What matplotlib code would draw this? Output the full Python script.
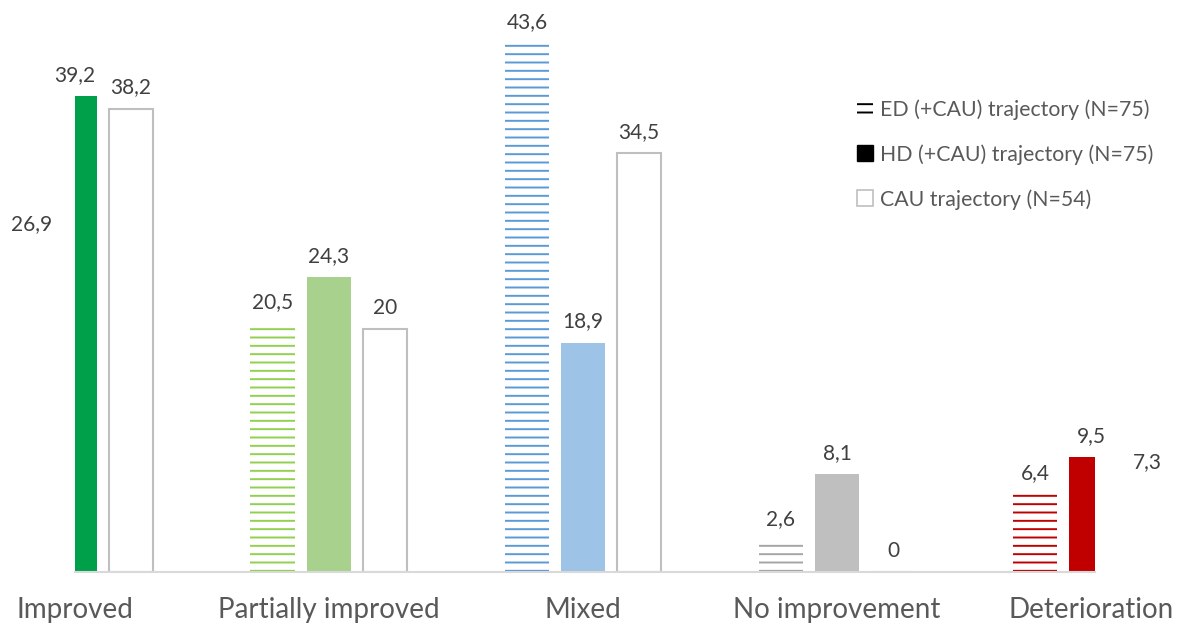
import numpy as np
import matplotlib
matplotlib.use('Agg')
import matplotlib.pyplot as plt
from matplotlib.patches import Patch

plt.rcParams['font.family'] = ['Lato', 'DejaVu Sans']
plt.rcParams['hatch.linewidth'] = 1.4

categories = ['Improved', 'Partially improved', 'Mixed', 'No improvement', 'Deterioration']
ed = [26.9, 20.5, 43.6, 2.6, 6.4]
hd = [39.2, 24.3, 18.9, 8.1, 9.5]
cau = [38.2, 20.0, 34.5, 0.0, 7.3]

ed_colors = ['#00a04a', '#92d050', '#5b9bd5', '#a5a5a5', '#c00000']
hd_colors = ['#00a04a', '#a9d18e', '#9dc3e6', '#bfbfbf', '#c00000']

series_names = ['ED (+CAU) trajectory (N=75)', 'HD (+CAU) trajectory (N=75)', 'CAU trajectory (N=54)']

fig = plt.figure(figsize=(11.79, 6.29), dpi=100)
ax = fig.add_axes([0.0636, 0.0906, 0.8652, 0.868])

x = np.arange(len(categories))
w = 0.177
step = 0.2205

ax.bar(x - step, ed, w, color='none', edgecolor=ed_colors, hatch='--', linewidth=0)
ax.bar(x, hd, w, color=hd_colors, linewidth=0)
ax.bar(x + step, cau, w, color='white', edgecolor='#bfbfbf', linewidth=1.5)

ax.set_xlim(0, 4.016)
ax.set_ylim(0, 45)


def fmt(v):
    return f'{v:g}'.replace('.', ',')


for xs, vals in [(x - step, ed), (x, hd), (x + step, cau)]:
    for xi, v in zip(xs, vals):
        dx = 9 if xi < 0 else 0
        ax.annotate(fmt(v), (xi, v), xytext=(dx, 8), textcoords='offset points',
                    ha='center', va='bottom', fontsize=15, color='#404040',
                    annotation_clip=False)

ax.set_xticks(x)
ax.set_xticklabels(categories, fontsize=20, color='#595959')
ax.tick_params(axis='x', length=0, pad=18)
ax.set_yticks([])
for s in ['top', 'left', 'right']:
    ax.spines[s].set_visible(False)
ax.spines['bottom'].set_color('#d9d9d9')
ax.spines['bottom'].set_linewidth(1.5)

handles = [
    Patch(facecolor='white', edgecolor='black', hatch='--', linewidth=0),
    Patch(facecolor='black', edgecolor='black'),
    Patch(facecolor='white', edgecolor='#bfbfbf', linewidth=1.2),
]
leg = fig.legend(handles, series_names, loc='upper left', bbox_to_anchor=(0.711, 0.873),
                 frameon=False, fontsize=15.3, labelcolor='#595959',
                 handlelength=0.75, handleheight=0.75, handletextpad=0.3, labelspacing=1.15)

fig.savefig('out.png', dpi=100)
